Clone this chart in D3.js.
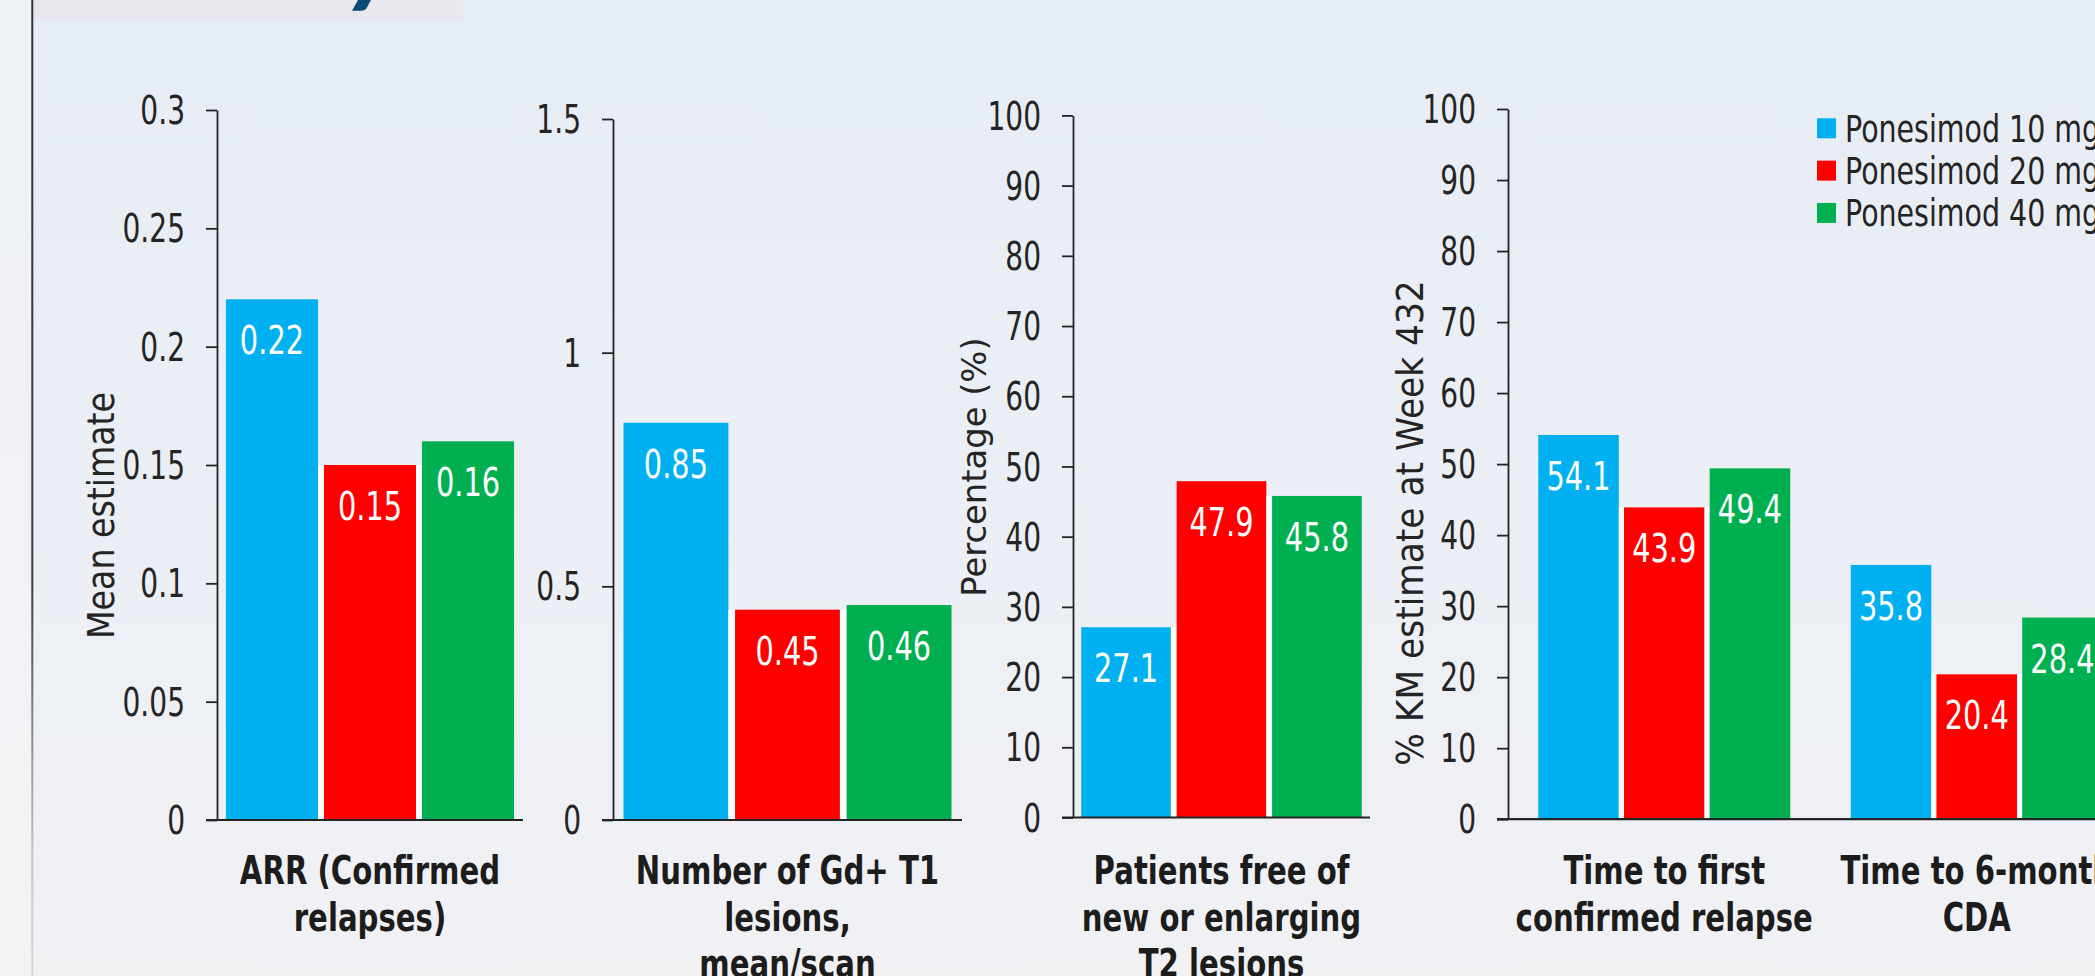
<!DOCTYPE html>
<html>
<head>
<meta charset="utf-8">
<script src="https://cdn.jsdelivr.net/npm/d3@7"></script>
<style>
  html, body { margin: 0; padding: 0; overflow: hidden; background: #eef0f3; }
  svg { display: block; }
</style>
</head>
<body>
<svg id="chart" width="2095" height="976"></svg>
<script>
// ---- Data ---------------------------------------------------------------
const series = ["Ponesimod 10 mg", "Ponesimod 20 mg", "Ponesimod 40 mg"];
const seriesColors = ["#00b0f0", "#ff0000", "#00b050"];

const arrCategories = [["ARR (Confirmed", "relapses)"]];
const arrValues = [[0.22, 0.15, 0.16]];
const arrTicks = [0, 0.05, 0.1, 0.15, 0.2, 0.25, 0.3];

const gdCategories = [["Number of Gd+ T1", "lesions,", "mean/scan"]];
const gdValues = [[0.85, 0.45, 0.46]];
const gdTicks = [0, 0.5, 1, 1.5];

const t2Categories = [["Patients free of", "new or enlarging", "T2 lesions"]];
const t2Values = [[27.1, 47.9, 45.8]];
const pctTicks = [0, 10, 20, 30, 40, 50, 60, 70, 80, 90, 100];

const kmCategories = [["Time to first", "confirmed relapse"], ["Time to 6-month", "CDA"]];
const kmValues = [[54.1, 43.9, 49.4], [35.8, 20.4, 28.4]];

const yTitles = ["Mean estimate", null, "Percentage (%)", "% KM estimate at Week 432"];

// ---- Layout -------------------------------------------------------------
const W = 2095, H = 976;
const FONT = "'DejaVu Sans', Verdana, sans-serif";
const INK = "#242424";
const TICK = 11, TICK_PAD = 21;
const TICK_FS = 39, TICK_SX = 0.72;
const VAL_FS = 39, VAL_SX = 0.74;
const CAT_FS = 38.4, CAT_SX = 0.76, CAT_LH = 46.5, CAT_Y = 884;

const panels = [
  { cats: arrCategories, values: arrValues, ticks: arrTicks, max: 0.3, title: yTitles[0],
    range: [217, 523], yTop: 110, yBase: 820, padIn: 0, padOut: 0.031,
    tx: 114, ty: 515.5, tfs: 36.5, tsx: 0.91 },
  { cats: gdCategories, values: gdValues, ticks: gdTicks, max: 1.5, title: yTitles[1],
    range: [613, 962], yTop: 119, yBase: 820, padIn: 0, padOut: 0.032 },
  { cats: t2Categories, values: t2Values, ticks: pctTicks, max: 100, title: yTitles[2],
    range: [1073, 1370], yTop: 115.4, yBase: 817.5, padIn: 0, padOut: 0.0294,
    tx: 986, ty: 467, tfs: 34.5, tsx: 0.98 },
  { cats: kmCategories, values: kmValues, ticks: pctTicks, max: 100, title: yTitles[3],
    range: [1508, 2133], yTop: 109, yBase: 819.2, padIn: 0.1936, padOut: 0.0968,
    tx: 1423, ty: 523, tfs: 37, tsx: 0.93 }
];

const svg = d3.select("#chart");
const defs = svg.append("defs");

function vGradient(id, stops) {
  const g = defs.append("linearGradient").attr("id", id)
    .attr("x1", 0).attr("y1", 0).attr("x2", 0).attr("y2", 1);
  stops.forEach(([o, c, a]) => g.append("stop").attr("offset", o)
    .attr("stop-color", c).attr("stop-opacity", a == null ? 1 : a));
}
vGradient("bgMain", [[0, "#e7edf5"], [0.55, "#ebeff5"], [1, "#f1f1f4"]]);
vGradient("bgSide", [[0, "#edf0f4"], [1, "#f3f3f5"]]);
vGradient("band", [[0, "#e9e6ee"], [0.66, "#e9e6ee"], [1, "#e8edf5", 0]]);
vGradient("rule", [[0, "#333"], [0.6, "#3a3a3a"], [0.78, "#999"], [0.88, "#c4c4c4"], [1, "#d8d8d8"]]);

// ---- Slide background ----------------------------------------------------
svg.append("rect").attr("width", W).attr("height", H).attr("fill", "url(#bgMain)");
svg.append("rect").attr("width", 32).attr("height", H).attr("fill", "url(#bgSide)");
svg.append("rect").attr("x", 34).attr("y", 0).attr("width", 429).attr("height", 25).attr("fill", "url(#band)");
svg.append("rect").attr("x", 31.3).attr("y", 0).attr("width", 2).attr("height", H).attr("fill", "url(#rule)");
// tail of the heading lettering above the charts
svg.append("path").attr("d", "M358,0 L371,0 L366,9 Q364.5,10.8 361,10.8 L352,10.8 Z").attr("fill", "#0b4a72");

// ---- Helpers -------------------------------------------------------------
function squeezedText(parent, x, y, str, opts) {
  return parent.append("text")
    .attr("transform", `translate(${x},${y}) scale(${opts.sx},1)`)
    .attr("text-anchor", opts.anchor || "middle")
    .attr("font-family", FONT)
    .attr("font-size", opts.fs)
    .attr("font-weight", opts.bold ? "bold" : null)
    .attr("fill", opts.fill || INK)
    .text(str);
}

// ---- Panels --------------------------------------------------------------
panels.forEach(p => {
  const g = svg.append("g");
  const y = d3.scaleLinear().domain([0, p.max]).range([p.yBase, p.yTop]);
  const x0 = d3.scaleBand().domain(p.cats.map((c, i) => i)).range(p.range)
    .paddingInner(p.padIn).paddingOuter(p.padOut);
  const x1 = d3.scaleBand().domain(series).range([0, x0.bandwidth()]).paddingInner(0.06);

  // y axis
  const axis = g.append("g")
    .attr("transform", `translate(${p.range[0]},0)`)
    .call(d3.axisLeft(y).tickValues(p.ticks).tickFormat(d => String(d))
      .tickSize(TICK).tickSizeOuter(0).tickPadding(TICK_PAD));
  axis.attr("color", INK).attr("font-family", FONT).attr("font-size", TICK_FS);
  axis.selectAll("path, line").attr("stroke-width", 1.8);
  axis.selectAll("text")
    .attr("x", -(TICK + TICK_PAD) / TICK_SX)
    .attr("dy", "0.35em")
    .attr("transform", `scale(${TICK_SX},1)`)
    .attr("fill", INK);

  // bars
  const groups = g.selectAll("g.cat").data(p.values).join("g")
    .attr("class", "cat")
    .attr("transform", (d, i) => `translate(${x0(i)},0)`);

  const bars = groups.selectAll("g.bar")
    .data(d => d.map((v, j) => ({ v, j, prev: j > 0 ? d[j - 1] : null })))
    .join("g").attr("class", "bar");

  // white separators between neighbouring bars
  bars.filter(d => d.prev != null).append("rect")
    .attr("x", d => x1(series[d.j - 1]) + x1.bandwidth())
    .attr("width", d => x1(series[d.j]) - x1(series[d.j - 1]) - x1.bandwidth())
    .attr("y", d => y(Math.min(d.v, d.prev)))
    .attr("height", d => y(0) - y(Math.min(d.v, d.prev)))
    .attr("fill", "#ffffff");

  bars.append("rect")
    .attr("x", d => x1(series[d.j]))
    .attr("width", x1.bandwidth())
    .attr("y", d => y(d.v))
    .attr("height", d => y(0) - y(d.v))
    .attr("fill", d => seriesColors[d.j]);

  bars.each(function (d) {
    squeezedText(d3.select(this), x1(series[d.j]) + x1.bandwidth() / 2, y(d.v) + 55, String(d.v),
      { fs: VAL_FS, sx: VAL_SX, fill: "#ffffff" });
  });

  // baseline
  g.append("line")
    .attr("x1", p.range[0] - TICK).attr("x2", p.range[1])
    .attr("y1", y(0)).attr("y2", y(0))
    .attr("stroke", INK).attr("stroke-width", 2.2);

  // category labels
  p.cats.forEach((lines, i) => {
    const cx = x0(i) + x0.bandwidth() / 2;
    lines.forEach((line, k) => {
      squeezedText(g, cx, CAT_Y + k * CAT_LH, line, { fs: CAT_FS, sx: CAT_SX, bold: true, fill: "#1c1c1c" });
    });
  });

  // y axis title
  if (p.title) {
    g.append("text")
      .attr("transform", `translate(${p.tx},${p.ty}) rotate(-90) scale(${p.tsx},1)`)
      .attr("text-anchor", "middle")
      .attr("font-family", FONT)
      .attr("font-size", p.tfs)
      .attr("fill", INK)
      .text(p.title);
  }
});

// ---- Legend --------------------------------------------------------------
const legend = svg.append("g").attr("transform", "translate(1817,118.3)");
const legendRow = d3.scaleBand().domain(series).range([0, 127]);
series.forEach((s, i) => {
  legend.append("rect")
    .attr("x", 0).attr("y", legendRow(s))
    .attr("width", 19).attr("height", 20)
    .attr("fill", seriesColors[i]);
  squeezedText(legend, 28, legendRow(s) + 23.4, s, { fs: 36.5, sx: 0.78, anchor: "start" });
});
</script>
</body>
</html>
